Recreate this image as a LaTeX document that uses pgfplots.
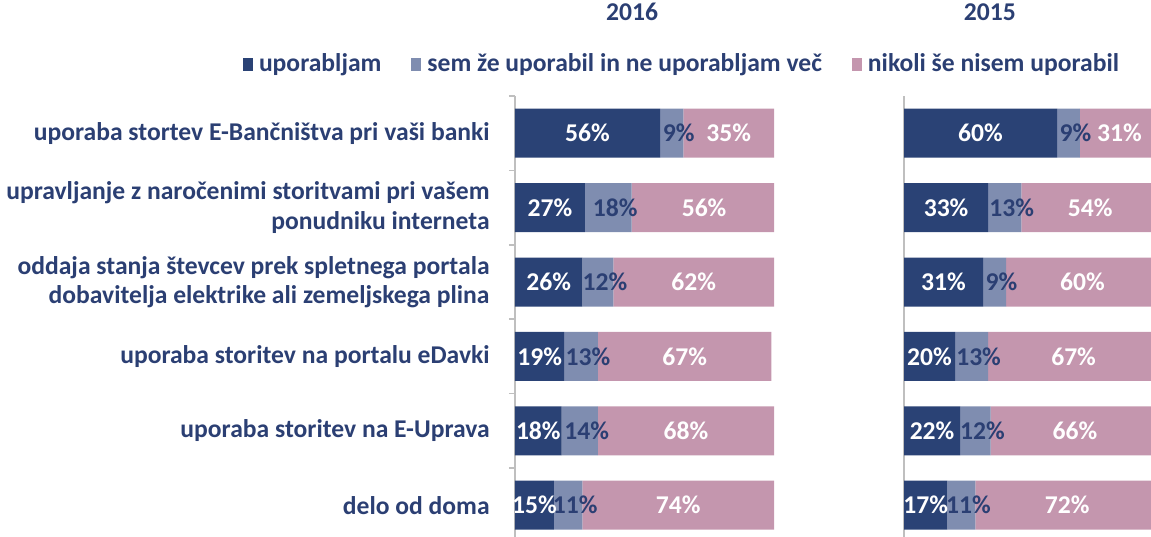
\documentclass[border=0pt]{standalone}
\usepackage{fontspec}
\setmainfont{Carlito}
\usepackage{pgfplots}
\pgfplotsset{compat=1.18}
\usepackage{pgfplotstable}
\definecolor{cNavy}{HTML}{2A4275}
\definecolor{cMid}{HTML}{7F8DB0}
\definecolor{cPink}{HTML}{C496AE}
\definecolor{cText}{HTML}{2B3F73}
\definecolor{cAxis}{HTML}{BFBFBF}
\newcommand\lbl{\fontsize{12.8}{14.8}\selectfont\bfseries}

\pgfplotstableread{
row a b c
1 56 9 35
2 27 18 56
3 26 12 62
4 19 13 67
5 18 14 68
6 15 11 74
}\dataA
\pgfplotstableread{
row a b c
1 60 9 31
2 33 13 54
3 31 9 60
4 20 13 67
5 22 12 66
6 17 11 72
}\dataB

\pgfplotsset{
  panel/.style={
    scale only axis, height=223.2pt,
    xmin=0, xmax=100, ymin=0.5, ymax=6.5, y dir=reverse,
    anchor=north west,
  },
  barpanel/.style={
    panel,
    xbar stacked, bar width=24.5pt,
    axis x line=none, axis y line=left,
    axis line style={cAxis, line width=0.75pt, -},
    ytick={1,...,6}, major tick length=0pt,
    minor ytick={0.5,1.5,...,5.5}, minor tick length=3pt,
    tick align=outside, tick style={cAxis, line width=0.75pt},
  },
  lblpanel/.style={
    panel, hide axis, clip=false,
  },
  seg/.style={draw=none, mark=none, nodes near coords, point meta=explicit symbolic,
    nodes near coords={\pgfplotspointmeta\%},
    every node near coord/.append style={anchor=center, font=\lbl, text=#1, inner sep=0pt}},
  midseg/.style={seg=cText, every node near coord/.append style={xshift=3.5pt}},
}

\begin{document}
\begin{tikzpicture}
% ---------- 2016 ----------
\begin{axis}[barpanel, width=129.5pt, at={(257.5pt,-48pt)},
  yticklabels={{uporaba stortev E-Bančništva pri vaši banki},
    {upravljanje z naročenimi storitvami pri vašem\\ponudniku interneta},
    {oddaja stanja števcev prek spletnega portala\\dobavitelja elektrike ali zemeljskega plina},
    {uporaba storitev na portalu eDavki},
    {uporaba storitev na E-Uprava},
    {delo od doma}},
  yticklabel style={align=right, font=\lbl, text=cText, inner sep=0pt, xshift=-12.5pt},
  title={2016}, title style={at={(axis description cs:0.452,1.161)}, anchor=center, font=\lbl, text=cText, inner sep=0pt},
  legend columns=3,
  legend style={at={(axis description cs:0.641,1.0717)}, anchor=center, draw=none, fill=none,
    font=\lbl, text=cText, inner sep=0pt,
    /tikz/every even column/.append style={column sep=15pt},
    nodes={inner sep=0pt}},
  legend image code/.code={\fill[#1] (0pt,-3.25pt) rectangle (5pt,3.25pt);},
  legend cell align=left,
]
\addplot[fill=cNavy, draw=none] table[x=a, y=row] {\dataA};
\addlegendentry{\hspace{3pt}uporabljam}
\addplot[fill=cMid, draw=none] table[x=b, y=row] {\dataA};
\addlegendentry{\hspace{3pt}sem že uporabil in ne uporabljam več}
\addplot[fill=cPink, draw=none] table[x=c, y=row] {\dataA};
\addlegendentry{\hspace{3pt}nikoli še nisem uporabil}
\end{axis}
\begin{axis}[lblpanel, width=129.5pt, at={(257.5pt,-48pt)}]
\addplot[seg=white] table[x expr=\thisrow{a}/2, y=row, meta=a] {\dataA};
\addplot[midseg] table[x expr=\thisrow{a}+\thisrow{b}/2, y=row, meta=b] {\dataA};
\addplot[seg=white] table[x expr=\thisrow{a}+\thisrow{b}+\thisrow{c}/2, y=row, meta=c] {\dataA};
\end{axis}
% ---------- 2015 ----------
\begin{axis}[barpanel, width=127.5pt, at={(452pt,-48pt)},
  minor tick length=0pt, yticklabels={},
  title={2015}, title style={at={(axis description cs:0.337,1.161)}, anchor=center, font=\lbl, text=cText, inner sep=0pt},
]
\addplot[fill=cNavy, draw=none] table[x=a, y=row] {\dataB};
\addplot[fill=cMid, draw=none] table[x=b, y=row] {\dataB};
\addplot[fill=cPink, draw=none] table[x=c, y=row] {\dataB};
\end{axis}
\begin{axis}[lblpanel, width=127.5pt, at={(452pt,-48pt)}]
\addplot[seg=white] table[x expr=\thisrow{a}/2, y=row, meta=a] {\dataB};
\addplot[midseg] table[x expr=\thisrow{a}+\thisrow{b}/2, y=row, meta=b] {\dataB};
\addplot[seg=white] table[x expr=\thisrow{a}+\thisrow{b}+\thisrow{c}/2, y=row, meta=c] {\dataB};
\end{axis}
\pgfresetboundingbox
\useasboundingbox (0pt,0pt) rectangle (575.5pt,-268pt);
\end{tikzpicture}
\end{document}
